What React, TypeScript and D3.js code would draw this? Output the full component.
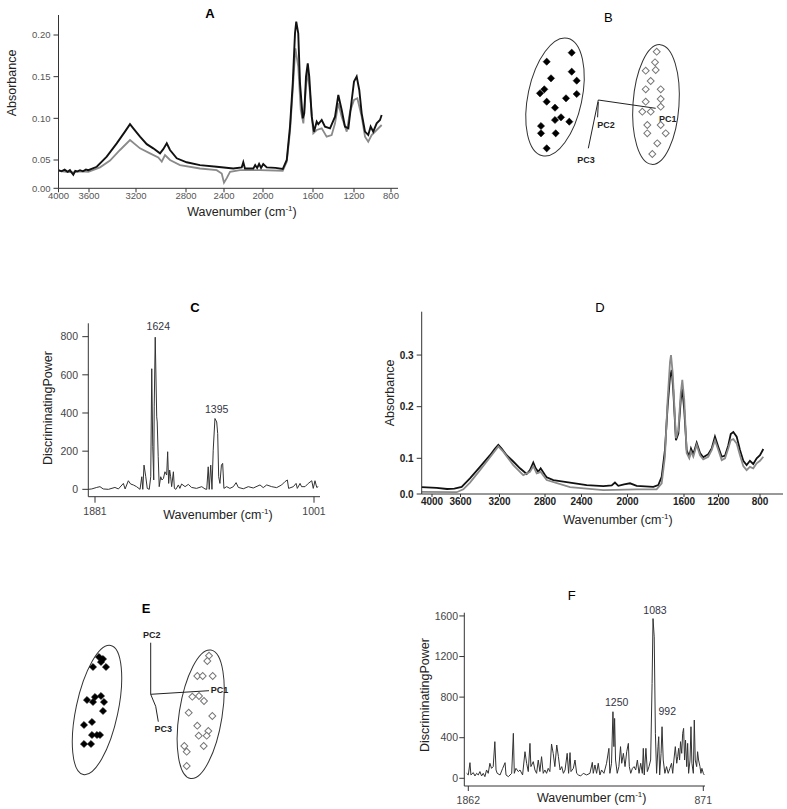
import React from 'react';
import * as d3 from 'd3';

// ---------------- Panel A : mean spectra ----------------
const aTicksX = [4000, 3600, 3200, 2800, 2400, 2000, 1600, 1200, 800];
const aTicksY = [0, 0.05, 0.1, 0.15, 0.2];
const aTickLabelsY = ['0.00', '0.05', '0.10', '0.15', '0.20'];
const aBlackW = [4000, 3960, 3920, 3880, 3850, 3806, 3780, 3750, 3718, 3680, 3640, 3609, 3534, 3449, 3364, 3294, 3251, 3223, 3168, 3114, 3062, 3008, 2982, 2954, 2928, 2874, 2793, 2653, 2477, 2305, 2218, 2202, 2185, 2099, 2080, 2060, 2040, 2031, 2020, 1998, 1970, 1900, 1842, 1810, 1784, 1762, 1744, 1734, 1718, 1704, 1682, 1670, 1656, 1642, 1630, 1610, 1590, 1564, 1548, 1515, 1483, 1434, 1385, 1353, 1320, 1288, 1255, 1222, 1200, 1171, 1143, 1117, 1081, 1046, 1020, 992, 955, 919, 901];
const aBlackV = [0.032, 0.030, 0.033, 0.029, 0.032, 0.024, 0.031, 0.030, 0.032, 0.030, 0.033, 0.032, 0.038, 0.054, 0.070, 0.084, 0.093, 0.088, 0.078, 0.069, 0.064, 0.058, 0.063, 0.070, 0.062, 0.052, 0.046, 0.041, 0.038, 0.035, 0.037, 0.046, 0.035, 0.035, 0.041, 0.036, 0.043, 0.040, 0.036, 0.043, 0.037, 0.036, 0.034, 0.050, 0.090, 0.142, 0.202, 0.216, 0.202, 0.142, 0.100, 0.106, 0.150, 0.166, 0.150, 0.102, 0.084, 0.096, 0.093, 0.098, 0.090, 0.088, 0.102, 0.128, 0.110, 0.090, 0.088, 0.122, 0.144, 0.150, 0.134, 0.106, 0.084, 0.080, 0.090, 0.084, 0.094, 0.098, 0.104];
const aGrayW = [4000, 3900, 3806, 3700, 3609, 3506, 3421, 3336, 3251, 3168, 3088, 3022, 2994, 2968, 2928, 2848, 2653, 2477, 2424, 2400, 2372, 2338, 2236, 2031, 1842, 1810, 1784, 1762, 1741, 1718, 1698, 1677, 1656, 1642, 1624, 1597, 1564, 1515, 1467, 1418, 1385, 1353, 1320, 1271, 1239, 1200, 1164, 1117, 1081, 1046, 1009, 955, 901];
const aGrayV = [0.031, 0.029, 0.028, 0.030, 0.029, 0.037, 0.049, 0.062, 0.074, 0.064, 0.058, 0.053, 0.047, 0.056, 0.050, 0.041, 0.035, 0.032, 0.026, 0.010, 0.018, 0.029, 0.032, 0.032, 0.031, 0.047, 0.084, 0.134, 0.184, 0.162, 0.110, 0.094, 0.138, 0.156, 0.130, 0.082, 0.086, 0.088, 0.078, 0.080, 0.094, 0.118, 0.102, 0.084, 0.108, 0.122, 0.124, 0.102, 0.078, 0.072, 0.080, 0.086, 0.092];

// ---------------- Panel B : PCA scores ----------------
const bGroup1PC1 = [-2.66, -5.16, -2.66, -4.73, -2.16, -5.40, -5.83, -2.16, -5.16, -3.23, -4.33, -3.73, -4.33, -2.90, -5.73, -5.73, -4.26, -5.16];
const bGroup1PC2 = [4.73, 3.83, 2.83, 2.17, 1.93, 1.07, 0.67, 0.60, -0.17, 0.17, -0.77, -1.73, -2.00, -2.17, -2.60, -3.33, -3.33, -4.83];
const bGroup2PC1 = [5.84, 5.67, 4.74, 5.74, 5.24, 4.74, 6.24, 6.24, 4.74, 6.24, 4.40, 5.24, 6.24, 4.90, 4.90, 6.74, 5.90, 5.40];
const bGroup2PC2 = [4.83, 3.77, 2.93, 3.00, 1.90, 1.07, 1.07, 0.10, -0.17, -0.67, -1.17, -1.17, -2.50, -2.50, -3.33, -3.33, -4.33, -5.40];

// ---------------- Panel C : discriminating power ----------------
const cTicksX = [1881, 1001];
const cTicksY = [0, 200, 400, 600, 800];
const cW = [1908, 1894, 1874, 1861, 1848, 1827, 1801, 1787, 1767, 1760, 1747, 1738, 1727, 1714, 1700, 1693, 1689, 1684, 1677, 1671, 1663, 1657, 1653, 1649, 1645, 1643, 1639, 1633, 1631, 1627, 1623, 1617, 1612, 1606, 1600, 1593, 1589, 1585, 1581, 1577, 1573, 1566, 1562, 1556, 1546, 1540, 1533, 1519, 1506, 1493, 1473, 1452, 1439, 1432, 1426, 1422, 1416, 1411, 1406, 1399, 1392, 1388, 1384, 1379, 1373, 1368, 1363, 1352, 1339, 1325, 1314, 1305, 1285, 1265, 1245, 1218, 1205, 1191, 1171, 1151, 1131, 1118, 1108, 1103, 1084, 1073, 1068, 1057, 1051, 1037, 1024, 1010, 1004, 997, 990, 984];
const cV = [0, 2, 10, 14, 2, 0, 10, 2, 31, 2, 45, 28, 23, 14, 0, 66, 0, 127, 66, 5, 0, 66, 632, 223, 49, 432, 797, 380, 353, 171, 14, 66, 49, 57, 92, 75, 197, 31, 101, 66, 14, 92, 5, 0, 23, 5, 28, 14, 26, 10, 5, 14, 2, 0, 118, 0, 127, 0, 205, 371, 353, 292, 66, 31, 127, 136, 5, 14, 5, 14, 35, 10, 3, 14, 7, 23, 9, 23, 14, 9, 23, 40, 49, 5, 14, 31, 5, 31, 14, 14, 31, 45, 5, 45, 10, 14];
const cPeaks = [1624, 1395];

// ---------------- Panel D : mean spectra ----------------
const dTicksX = [4000, 3600, 3200, 2800, 2400, 2000, 1600, 1200, 800];
const dTicksY = [0, 0.1, 0.2, 0.3];
const dTickLabelsY = ['0.0', '0.1', '0.2', '0.3'];
const dBlackW = [4145, 3934, 3789, 3686, 3588, 3503, 3400, 3297, 3246, 3212, 3181, 3137, 3079, 3020, 2961, 2932, 2903, 2882, 2859, 2838, 2800, 2781, 2709, 2526, 2355, 2210, 2137, 2109, 2080, 2030, 1982, 1935, 1817, 1782, 1758, 1735, 1716, 1699, 1687, 1676, 1657, 1640, 1623, 1612, 1597, 1569, 1539, 1519, 1492, 1453, 1414, 1377, 1319, 1279, 1241, 1202, 1169, 1137, 1106, 1082, 1057, 1025, 993, 961, 929, 897, 865, 832, 800, 768];
const dBlackV = [0.019, 0.017, 0.014, 0.015, 0.020, 0.044, 0.076, 0.106, 0.119, 0.126, 0.119, 0.106, 0.091, 0.072, 0.056, 0.067, 0.088, 0.072, 0.062, 0.072, 0.053, 0.047, 0.039, 0.032, 0.025, 0.022, 0.024, 0.032, 0.023, 0.027, 0.030, 0.023, 0.020, 0.025, 0.048, 0.116, 0.200, 0.258, 0.271, 0.232, 0.135, 0.148, 0.213, 0.235, 0.193, 0.116, 0.103, 0.119, 0.108, 0.130, 0.110, 0.102, 0.108, 0.119, 0.142, 0.122, 0.103, 0.105, 0.125, 0.147, 0.151, 0.142, 0.116, 0.093, 0.081, 0.093, 0.084, 0.100, 0.106, 0.118];
const dGrayW = [4145, 3653, 3571, 3503, 3400, 3297, 3212, 3167, 3079, 2991, 2932, 2903, 2873, 2838, 2781, 2526, 2210, 1935, 1794, 1758, 1735, 1716, 1699, 1692, 1680, 1657, 1640, 1623, 1612, 1597, 1569, 1539, 1519, 1492, 1453, 1414, 1377, 1319, 1279, 1241, 1202, 1169, 1137, 1106, 1082, 1057, 1025, 993, 961, 929, 897, 865, 832, 800, 768];
const dGrayV = [0.006, 0.005, 0.013, 0.032, 0.067, 0.102, 0.123, 0.113, 0.081, 0.053, 0.062, 0.078, 0.058, 0.062, 0.039, 0.019, 0.011, 0.013, 0.013, 0.030, 0.103, 0.213, 0.287, 0.300, 0.265, 0.139, 0.155, 0.226, 0.252, 0.213, 0.110, 0.100, 0.113, 0.103, 0.126, 0.106, 0.097, 0.103, 0.116, 0.135, 0.116, 0.095, 0.100, 0.119, 0.135, 0.137, 0.129, 0.106, 0.078, 0.067, 0.076, 0.072, 0.086, 0.093, 0.103];

// ---------------- Panel E : PCA scores ----------------
const eGroup1PC1 = [-5.17, -4.77, -4.97, -5.77, -4.47, -5.57, -4.97, -4.67, -5.77, -4.77, -6.37, -5.87, -6.67, -5.87, -5.37, -5.07, -6.67, -5.97];
const eGroup1PC2 = [3.73, 3.53, 3.23, 2.73, 2.73, -0.27, -0.17, -0.77, -0.77, -1.67, -0.57, -2.77, -3.07, -4.07, -4.07, -4.07, -4.97, -4.97];
const eGroup2PC1 = [5.83, 5.66, 4.66, 5.20, 6.20, 4.16, 4.83, 5.33, 3.80, 6.16, 4.66, 4.80, 5.76, 5.60, 5.30, 3.36, 3.60, 3.60];
const eGroup2PC2 = [3.86, 3.33, 1.83, 1.83, 1.83, -0.24, -0.17, -0.67, -1.84, -2.17, -3.14, -4.14, -3.67, -4.14, -5.17, -5.17, -5.74, -7.17];

// ---------------- Panel F : discriminating power ----------------
const fTicksX = [1862, 871];
const fTicksY = [0, 400, 800, 1200, 1600];
const fW = [1869, 1862, 1855, 1851, 1841, 1834, 1827, 1820, 1813, 1806, 1799, 1792, 1785, 1778, 1771, 1764, 1757, 1750, 1745, 1740, 1728, 1717, 1707, 1703, 1693, 1679, 1672, 1668, 1661, 1651, 1644, 1633, 1623, 1616, 1609, 1602, 1598, 1588, 1581, 1574, 1567, 1560, 1553, 1546, 1539, 1532, 1525, 1518, 1511, 1504, 1497, 1489, 1482, 1475, 1468, 1461, 1454, 1445, 1439, 1433, 1429, 1419, 1412, 1405, 1398, 1388, 1377, 1363, 1349, 1339, 1335, 1328, 1321, 1314, 1307, 1300, 1290, 1279, 1269, 1265, 1258, 1252, 1248, 1245, 1241, 1234, 1227, 1220, 1215, 1208, 1201, 1194, 1187, 1183, 1177, 1170, 1163, 1156, 1149, 1142, 1135, 1128, 1124, 1120, 1113, 1107, 1100, 1093, 1087, 1083, 1078, 1073, 1068, 1062, 1059, 1055, 1049, 1045, 1040, 1033, 1026, 1019, 1012, 1005, 1000, 995, 989, 983, 979, 975, 971, 967, 962, 958, 954, 950, 946, 941, 937, 933, 927, 923, 919, 913, 909, 905, 899, 895, 891, 885, 881, 877, 871, 867];
const fV = [49, 33, 154, 33, 56, 23, 49, 33, 66, 23, 49, 16, 82, 49, 148, 98, 115, 361, 82, 49, 33, 98, 154, 33, 16, 49, 443, 49, 98, 66, 82, 33, 262, 148, 66, 344, 115, 164, 82, 49, 180, 66, 213, 49, 82, 49, 98, 66, 338, 246, 115, 328, 213, 82, 115, 49, 82, 246, 49, 253, 66, 98, 180, 49, 33, 23, 49, 33, 49, 157, 49, 131, 49, 148, 33, 82, 49, 148, 295, 49, 148, 656, 312, 590, 180, 49, 115, 312, 148, 246, 115, 262, 344, 115, 49, 98, 115, 82, 180, 49, 148, 49, 295, 33, 295, 66, 115, 180, 935, 1574, 1394, 443, 49, 312, 410, 33, 246, 508, 180, 49, 115, 49, 98, 148, 49, 180, 312, 148, 213, 295, 180, 361, 246, 443, 492, 180, 377, 115, 344, 49, 180, 508, 148, 49, 574, 180, 115, 262, 180, 115, 49, 98, 49, 33];
const fPeaks = [1250, 1083, 992];

const FONT = "'Liberation Sans', Arial, Helvetica, sans-serif";
const AXIS = '#333';
const TICKTXT = '#555';

const zip = (w: number[], v: number[]) => w.map((d, i) => [d, v[i]] as [number, number]);

function WaveTitle({ x, y }: { x: number; y: number }) {
  return (
    <text x={x} y={y} textAnchor="middle" fontSize={12.5} fill="#222" fontFamily={FONT}>
      Wavenumber (cm<tspan dy={-5} fontSize={8}>-1</tspan><tspan dy={5}>)</tspan>
    </text>
  );
}

function VTitle({ x, y, label }: { x: number; y: number; label: string }) {
  return (
    <text transform={`translate(${x},${y}) rotate(-90)`} textAnchor="middle" dominantBaseline="central" fontSize={12.5} fill="#222" fontFamily={FONT}>
      {label}
    </text>
  );
}

function Diamond({ x, y, filled }: { x: number; y: number; filled: boolean }) {
  const d = d3.symbol().type(d3.symbolSquare).size(filled ? 26 : 24)() as string;
  return (
    <path d={d} transform={`translate(${x},${y}) rotate(45)`} fill={filled ? '#000' : '#fff'} stroke={filled ? '#000' : '#777'} strokeWidth={filled ? 0.5 : 1} />
  );
}

function PanelA() {
  const x = d3.scaleLinear().domain(aTicksX).range([58.5, 89, 136, 186, 224, 263, 313, 354, 391]);
  const y = d3.scaleLinear().domain([0, 0.05, 0.224]).range([188.3, 160, 15]);
  const line = d3.line<[number, number]>().x(d => x(d[0])).y(d => y(d[1]));
  const x0 = x(4000), yb = y(0);
  return (
    <g>
      <text x={210} y={18} textAnchor="middle" fontSize={13} fontWeight="bold" fontFamily={FONT}>A</text>
      <path d={line(zip(aGrayW, aGrayV)) as string} fill="none" stroke="#8a8a8a" strokeWidth={1.8} />
      <path d={line(zip(aBlackW, aBlackV)) as string} fill="none" stroke="#111" strokeWidth={1.9} />
      <line x1={x0} x2={x0} y1={y(0.224)} y2={yb} stroke={AXIS} />
      <line x1={x0} x2={398} y1={yb} y2={yb} stroke={AXIS} />
      {aTicksY.map((t, i) => (
        <g key={t}>
          <line x1={x0 - 5} x2={x0} y1={y(t)} y2={y(t)} stroke={AXIS} />
          <text x={x0 - 8} y={y(t)} dy="0.35em" textAnchor="end" fontSize={9.5} fill={TICKTXT} fontFamily={FONT}>{aTickLabelsY[i]}</text>
        </g>
      ))}
      {aTicksX.map(t => (
        <g key={t}>
          <line x1={x(t)} x2={x(t)} y1={yb} y2={yb + 4} stroke={AXIS} />
          <text x={x(t)} y={198.5} textAnchor="middle" fontSize={9.5} fill={TICKTXT} fontFamily={FONT}>{t}</text>
        </g>
      ))}
      <WaveTitle x={242} y={216} />
      <VTitle x={12} y={83} label="Absorbance" />
    </g>
  );
}

function PCAPanel({ title, titleX, titleY, titleBold, ox, oy, g1x, g1y, g2x, g2y, ell, axes }: any) {
  const x = d3.scaleLinear().domain([-10, 10]).range([ox - 100, ox + 100]);
  const y = d3.scaleLinear().domain([-10, 10]).range([oy + 100, oy - 100]);
  const k = x(1) - x(0);
  return (
    <g>
      <text x={titleX} y={titleY} textAnchor="middle" fontSize={13} fontWeight={titleBold ? 'bold' : 'normal'} fontFamily={FONT}>{title}</text>
      {ell.map((e: any, i: number) => (
        <ellipse key={i} cx={0} cy={0} rx={e.b * k} ry={e.a * k} transform={`translate(${x(e.cx)},${y(e.cy)}) rotate(${e.rot})`} fill="none" stroke="#333" strokeWidth={1} />
      ))}
      {axes.map((a: any, i: number) => (
        <g key={i}>
          <path d={d3.line()(a.pts.map((p: number[]) => [x(p[0]), y(p[1])]) as any) as string} fill="none" stroke="#222" strokeWidth={1} />
          <text x={x(a.lx)} y={y(a.ly)} dy="0.35em" textAnchor="middle" fontSize={9} fontWeight="bold" fill="#222" fontFamily={FONT}>{a.label}</text>
        </g>
      ))}
      {g1x.map((v: number, i: number) => <Diamond key={'a' + i} x={x(v)} y={y(g1y[i])} filled={true} />)}
      {g2x.map((v: number, i: number) => <Diamond key={'b' + i} x={x(v)} y={y(g2y[i])} filled={false} />)}
    </g>
  );
}

function PanelC() {
  const x = d3.scaleLinear().domain([1881, 1001]).range([95, 314]);
  const y = d3.scaleLinear().domain([-38.6, 870]).range([496.7, 323.3]);
  const line = d3.line<[number, number]>().x(d => x(d[0])).y(d => y(d[1]));
  const x0 = 88.3, yb = 496.7;
  const peakV = (w: number) => cV[cW.indexOf(cW.reduce((a, b) => (Math.abs(b - w) < Math.abs(a - w) ? b : a)))];
  return (
    <g>
      <text x={195} y={311.5} textAnchor="middle" fontSize={13} fontWeight="bold" fontFamily={FONT}>C</text>
      <path d={line(zip(cW, cV)) as string} fill="none" stroke="#333" strokeWidth={1} />
      <line x1={x0} x2={x0} y1={323.3} y2={yb} stroke={AXIS} />
      <line x1={x0} x2={320} y1={yb} y2={yb} stroke={AXIS} />
      {cTicksY.map(t => (
        <g key={t}>
          <line x1={x0 - 6} x2={x0} y1={y(t)} y2={y(t)} stroke={AXIS} />
          <text x={78} y={y(t)} dy="0.35em" textAnchor="end" fontSize={10.5} fill="#444" fontFamily={FONT}>{t}</text>
        </g>
      ))}
      {cTicksX.map(t => (
        <g key={t}>
          <line x1={x(t)} x2={x(t)} y1={yb} y2={yb + 6} stroke={AXIS} />
          <text x={x(t)} y={515} textAnchor="middle" fontSize={10.5} fill="#444" fontFamily={FONT}>{t}</text>
        </g>
      ))}
      <text x={158.3} y={330} textAnchor="middle" fontSize={10.5} fill="#334" fontFamily={FONT}>{cPeaks[0]}</text>
      <text x={216.7} y={412.5} textAnchor="middle" fontSize={10.5} fill="#334" fontFamily={FONT}>{cPeaks[1]}</text>
      <WaveTitle x={218} y={519} />
      <VTitle x={48} y={408} label="DiscriminatingPower" />
    </g>
  );
}

function PanelD() {
  const x = d3.scaleLinear().domain(dTicksX).range([432, 460.5, 499.5, 545, 581.5, 627.5, 684, 718.5, 760]);
  const y = d3.scaleLinear().domain([0, 0.1, 0.384]).range([494, 458.3, 311.7]);
  const line = d3.line<[number, number]>().x(d => x(d[0])).y(d => y(d[1]));
  const x0 = 421.7, yb = 494;
  return (
    <g>
      <text x={600} y={312} textAnchor="middle" fontSize={13} fontFamily={FONT}>D</text>
      <path d={line(zip(dBlackW, dBlackV)) as string} fill="none" stroke="#111" strokeWidth={1.8} />
      <path d={line(zip(dGrayW, dGrayV)) as string} fill="none" stroke="#8a8a8a" strokeWidth={1.8} />
      <line x1={x0} x2={x0} y1={311.7} y2={yb} stroke={AXIS} />
      <line x1={x0} x2={783} y1={yb} y2={yb} stroke={AXIS} />
      {dTicksY.map((t, i) => (
        <g key={t}>
          <line x1={x0 - 5} x2={x0} y1={y(t)} y2={y(t)} stroke={AXIS} />
          <text x={x0 - 8} y={y(t)} dy="0.35em" textAnchor="end" fontSize={10} fontWeight="bold" fill="#222" fontFamily={FONT}>{dTickLabelsY[i]}</text>
        </g>
      ))}
      {dTicksX.map(t => (
        <g key={t}>
          <line x1={x(t)} x2={x(t)} y1={yb} y2={yb + 3} stroke={AXIS} />
          <text x={x(t)} y={505} textAnchor="middle" fontSize={10} fontWeight="bold" fill="#222" fontFamily={FONT}>{t}</text>
        </g>
      ))}
      <WaveTitle x={618} y={524} />
      <VTitle x={390} y={393} label="Absorbance" />
    </g>
  );
}

function PanelF() {
  const x = d3.scaleLinear().domain([1862, 871]).range([468.3, 703.3]);
  const y = d3.scaleLinear().domain([-76, 1632]).range([786, 612.7]);
  const line = d3.line<[number, number]>().x(d => x(d[0])).y(d => y(d[1]));
  const x0 = 464.3, yb = 786;
  return (
    <g>
      <text x={571.7} y={600} textAnchor="middle" fontSize={13} fontFamily={FONT}>F</text>
      <path d={line(zip(fW, fV)) as string} fill="none" stroke="#333" strokeWidth={1} />
      <line x1={x0} x2={x0} y1={612.7} y2={yb} stroke={AXIS} />
      <line x1={x0} x2={705} y1={yb} y2={yb} stroke={AXIS} />
      {fTicksY.map(t => (
        <g key={t}>
          <line x1={x0 - 5} x2={x0} y1={y(t)} y2={y(t)} stroke={AXIS} />
          <text x={458} y={y(t)} dy="0.35em" textAnchor="end" fontSize={10.5} fill="#444" fontFamily={FONT}>{t}</text>
        </g>
      ))}
      {fTicksX.map(t => (
        <g key={t}>
          <line x1={x(t)} x2={x(t)} y1={yb} y2={yb + 5} stroke={AXIS} />
          <text x={x(t)} y={804} textAnchor="middle" fontSize={10.5} fill="#444" fontFamily={FONT}>{t}</text>
        </g>
      ))}
      <text x={655} y={614} textAnchor="middle" fontSize={10.5} fill="#334" fontFamily={FONT}>{fPeaks[1]}</text>
      <text x={616.7} y={705.5} textAnchor="middle" fontSize={10.5} fill="#334" fontFamily={FONT}>{fPeaks[0]}</text>
      <text x={667.3} y={714.5} textAnchor="middle" fontSize={10.5} fill="#334" fontFamily={FONT}>{fPeaks[2]}</text>
      <WaveTitle x={591.7} y={802} />
      <VTitle x={425} y={695} label="DiscriminatingPower" />
    </g>
  );
}

export default function App() {
  return (
    <svg width={787} height={809} viewBox="0 0 787 809" style={{ position: 'absolute', left: 0, top: 0, background: '#fff' }}>
      <rect width={787} height={809} fill="#fff" />
      <PanelA />
      <PCAPanel
        title="B" titleX={608.3} titleY={21.5} titleBold={false} ox={598.3} oy={100}
        g1x={bGroup1PC1} g1y={bGroup1PC2} g2x={bGroup2PC1} g2y={bGroup2PC2}
        ell={[{ cx: -4.33, cy: 0.3, a: 6.0, b: 2.7, rot: 12 }, { cx: 5.77, cy: -0.45, a: 6.0, b: 2.3, rot: 4 }]}
        axes={[
          { pts: [[0, 0], [5.74, -0.83]], label: 'PC1', lx: 6.95, ly: -1.93 },
          { pts: [[0, -0.2], [-0.07, -1.73]], label: 'PC2', lx: 0.77, ly: -2.45 },
          { pts: [[0, 0], [-1.0, -4.83]], label: 'PC3', lx: -1.23, ly: -6.0 },
        ]}
      />
      <PanelC />
      <PanelD />
      <PCAPanel
        title="E" titleX={146} titleY={613} titleBold={true} ox={150.7} oy={694.3}
        g1x={eGroup1PC1} g1y={eGroup1PC2} g2x={eGroup2PC1} g2y={eGroup2PC2}
        ell={[{ cx: -5.37, cy: -1.57, a: 6.6, b: 2.1, rot: 12 }, { cx: 5.0, cy: -2.0, a: 6.5, b: 2.15, rot: 9 }]}
        axes={[
          { pts: [[0, 0], [5.83, 0.36]], label: 'PC1', lx: 6.88, ly: 0.43 },
          { pts: [[0, 0], [0, 5.16]], label: 'PC2', lx: 0.1, ly: 5.93 },
          { pts: [[0, 0], [0.5, -1.2], [0.76, -2.74]], label: 'PC3', lx: 1.26, ly: -3.5 },
        ]}
      />
      <PanelF />
    </svg>
  );
}
